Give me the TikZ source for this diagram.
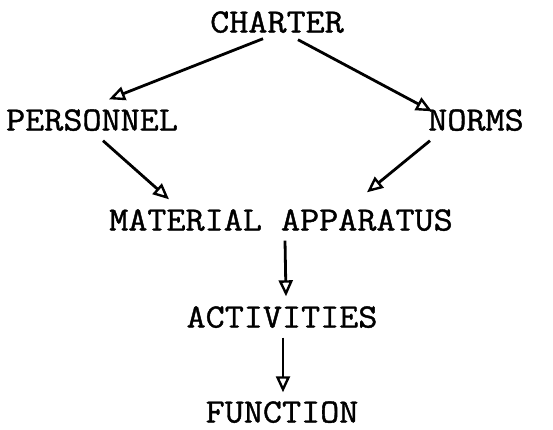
\documentclass[tikz,border=0pt]{standalone}
\usepackage{fontspec}
\setmonofont[FakeBold=1.2,FakeStretch=1.09]{Latin Modern Mono}
\usetikzlibrary{arrows.meta,calc}
\begin{document}
\begin{tikzpicture}[x=1pt,y=-1pt,
  lbl/.style={font=\ttfamily\fontsize{34}{34}\selectfont, inner sep=0pt, text height=19pt, text depth=0pt},
  conn/.style={line width=2.8pt, -{Triangle[open, length=16pt, width=14pt, line width=2.4pt]}}]
\useasboundingbox (0,0) rectangle (553,429);
\node[lbl] (charter) at (277,23) {CHARTER};
\node[lbl] (personnel) at (92,121) {PERSONNEL};
\node[lbl] (norms) at (476,121) {NORMS};
\node[lbl] (ma) at (281,221) {MATERIAL APPARATUS};
\node[lbl] (act) at (282,318) {ACTIVITIES};
\node[lbl] (func) at (282,413) {FUNCTION};
\draw[conn] ([shift={(-14,6)}]charter.south) -- ([shift={(17,-12)}]personnel.north);
\draw[conn] ([shift={(21,7)}]charter.south) -- ([shift={(-44,0)}]norms.north);
\draw[conn] ([shift={(11,10)}]personnel.south) -- ([shift={(-112,-12)}]ma.north);
\draw[conn] ([shift={(-46,10)}]norms.south) -- ([shift={(86,-19)}]ma.north);
\draw[conn] ([shift={(4,10)}]ma.south) -- ([shift={(4,-12)}]act.north);
\draw[conn] ([shift={(1,10)}]act.south) -- ([shift={(1,-11)}]func.north);
\end{tikzpicture}
\end{document}
